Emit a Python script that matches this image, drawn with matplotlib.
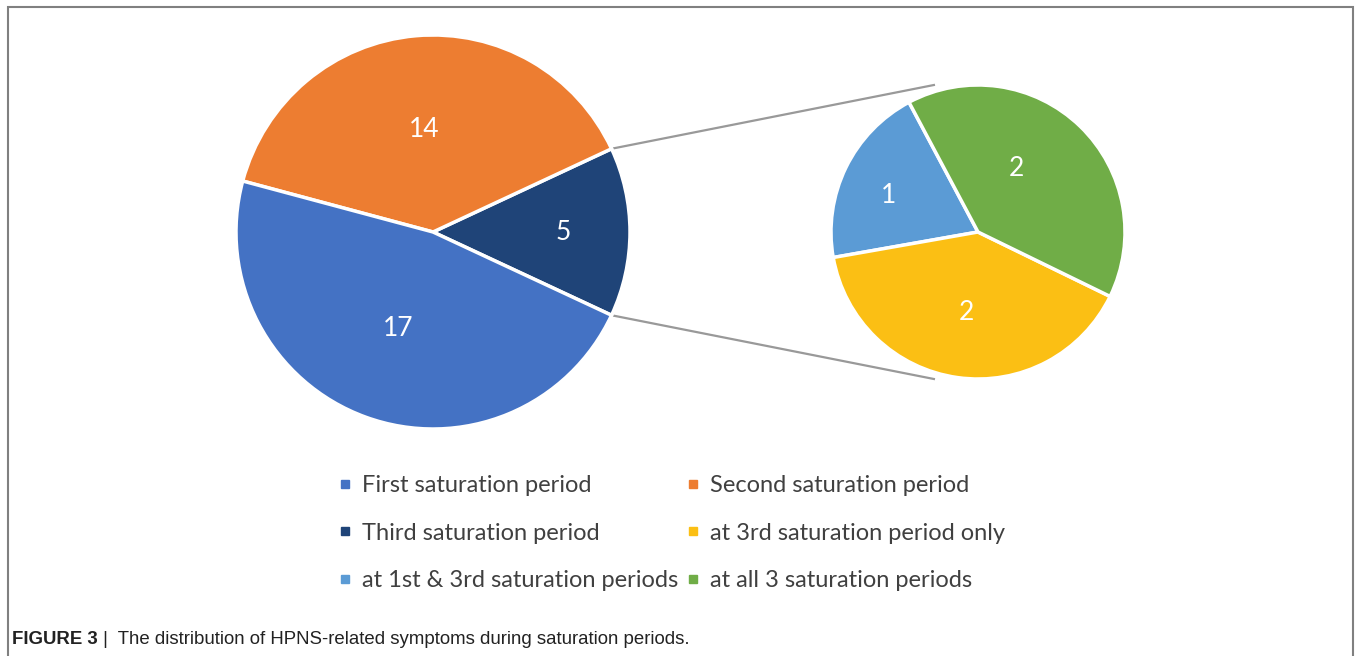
import numpy as np
import matplotlib.pyplot as plt
from matplotlib.lines import Line2D
from matplotlib.patches import Rectangle

# main pie: symptom counts per saturation period
main_labels = ['Third saturation period', 'Second saturation period', 'First saturation period']
main_values = [5, 14, 17]
main_colors = ['#1F4478', '#ED7D31', '#4472C4']

# secondary pie: breakdown of the third period
sub_labels = ['at 1st & 3rd saturation periods', 'at 3rd saturation period only', 'at all 3 saturation periods']
sub_values = [1, 2, 2]
sub_colors = ['#5B9BD5', '#FBBF14', '#70AD47']

caption_bold = 'FIGURE 3'
caption_rest = ' |  The distribution of HPNS-related symptoms during saturation periods.'

W, H = 1356, 656
fig = plt.figure(figsize=(W / 100, H / 100), dpi=100)
ax = fig.add_axes([0, 0, 1, 1])

main_c, main_r = (433, H - 232), 197
sub_c, sub_r = (978, H - 232), 147

main_angle = main_values[0] / sum(main_values) * 360
wedges1, _, texts1 = ax.pie(main_values, colors=main_colors, center=main_c, radius=main_r,
                            startangle=-main_angle / 2, counterclock=True,
                            autopct=lambda p: f"{round(p * sum(main_values) / 100)}",
                            pctdistance=0.52, frame=True,
                            wedgeprops=dict(edgecolor='white', linewidth=2.5),
                            textprops=dict(color='white', fontsize=19, family='Lato'))
wedges2, _, texts2 = ax.pie(sub_values, colors=sub_colors, center=sub_c, radius=sub_r,
                            startangle=118, counterclock=True,
                            autopct=lambda p: f"{round(p * sum(sub_values) / 100)}",
                            pctdistance=0.55, frame=True,
                            wedgeprops=dict(edgecolor='white', linewidth=2.5),
                            textprops=dict(color='white', fontsize=19, family='Lato'))
ax.set_xlim(0, W)
ax.set_ylim(0, H)
ax.set_aspect('equal')
ax.axis('off')

# nudge the small-slice labels out a bit
texts1[0].set_position((main_c[0] + 0.66 * main_r, main_c[1]))
texts2[0].set_position((sub_c[0] - 0.61 * sub_r, sub_c[1] + 0.25 * sub_r))
texts2[2].set_position((sub_c[0] + 0.26 * sub_r, sub_c[1] + 0.43 * sub_r))

# connector lines from the small slice to the secondary pie
a = np.deg2rad(main_angle / 2)
x0 = main_c[0] + main_r * np.cos(a)
for s in (1, -1):
    y0 = main_c[1] + s * main_r * np.sin(a)
    ax.plot([x0, sub_c[0] - 0.3 * sub_r], [y0, sub_c[1] + s * sub_r],
            color='#999999', lw=1.6, zorder=0)

# legend, two columns
order = [(main_labels[2], main_colors[2]), (main_labels[0], main_colors[0]), (sub_labels[0], sub_colors[0]),
         (main_labels[1], main_colors[1]), (sub_labels[1], sub_colors[1]), (sub_labels[2], sub_colors[2])]
handles = [Line2D([], [], marker='s', ls='', markersize=6, color=c) for _, c in order]
leg = ax.legend(handles, [l for l, _ in order], ncol=2, loc='center',
                bbox_to_anchor=(0.4955, 0.1875), bbox_transform=fig.transFigure,
                frameon=False, prop=dict(family='Lato', size=17),
                handlelength=0.5, handletextpad=0.45, columnspacing=0.4, labelspacing=1.12)
for t in leg.get_texts():
    t.set_color('#404040')

# frame around the chart
fig.patches.append(Rectangle((8 / W, -0.01), (1353 - 8) / W, (H - 7) / H + 0.01,
                             transform=fig.transFigure, fill=False, edgecolor='#808080', lw=1.5))

# caption
t1 = fig.text(12 / W, 1 - 640 / H, caption_bold, family='Liberation Sans', weight='bold',
              fontsize=13.4, va='center', color='#222222')
fig.canvas.draw()
bb = t1.get_window_extent()
fig.text(bb.x1 / W, 1 - 640 / H, caption_rest, family='Liberation Sans',
         fontsize=13.4, va='center', color='#222222')

fig.savefig('out.png', dpi=100)
